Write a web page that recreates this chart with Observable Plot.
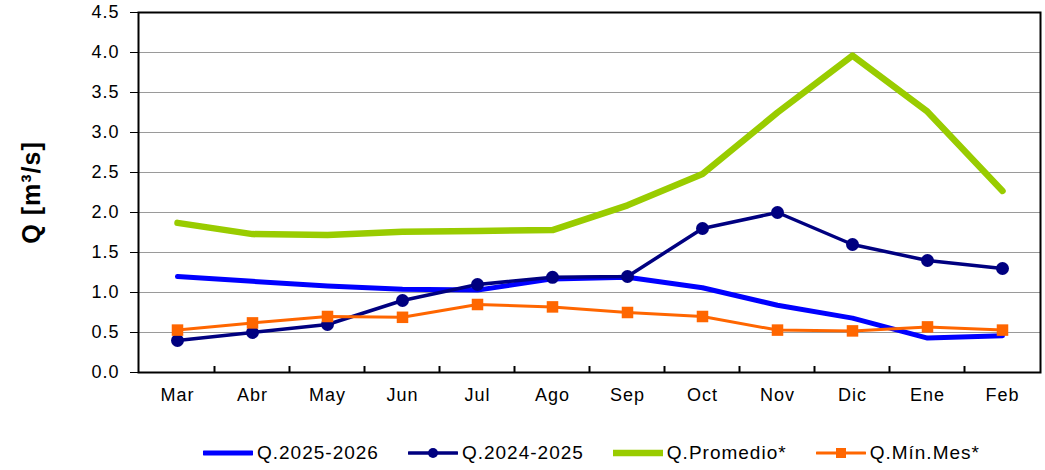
<!DOCTYPE html>
<html>
<head>
<meta charset="utf-8">
<script src="https://cdn.jsdelivr.net/npm/d3@7"></script>
<script src="https://cdn.jsdelivr.net/npm/@observablehq/plot@0.6"></script>
<style>
  body { margin: 0; background: #fff; font-family: "Liberation Sans", Arial, sans-serif; }
  #chart svg { display: block; }
  .legend { display: flex; align-items: center; margin-left: 203px; margin-top: 21px; height: 24px; }
  .item { display: flex; align-items: center; margin-right: 29px; }
  .item span { font-size: 19px; letter-spacing: 1px; color: #000; margin-left: 4px; }
</style>
</head>
<body>
<div id="chart"></div>
<div class="legend" id="legend"></div>
<script>
const months = ["Mar","Abr","May","Jun","Jul","Ago","Sep","Oct","Nov","Dic","Ene","Feb"];
const q2526 = [1.20,1.14,1.08,1.04,1.03,1.17,1.19,1.06,0.84,0.68,0.43,0.46];
const q2425 = [0.40,0.50,0.60,0.90,1.10,1.19,1.20,1.80,2.00,1.60,1.40,1.30];
const qProm = [1.87,1.73,1.72,1.76,1.77,1.78,2.09,2.48,3.25,3.96,3.26,2.27];
const qMin  = [0.53,0.62,0.70,0.69,0.85,0.82,0.75,0.70,0.53,0.52,0.57,0.53];
const yTicks = [0,0.5,1,1.5,2,2.5,3,3.5,4,4.5];
const seriesNames = ["Q.2025-2026","Q.2024-2025","Q.Promedio*","Q.Mín.Mes*"];
const yLabel = "Q [m³/s]";

const toRows = vals => months.map((m, i) => ({month: m, value: vals[i]}));
const d2526 = toRows(q2526), d2425 = toRows(q2425), dProm = toRows(qProm), dMin = toRows(qMin);

const BLUE = "#0000ff", NAVY = "#000080", GREEN = "#99cc00", ORANGE = "#ff6600";

// band boundary ticks (inside, pointing up from bottom axis)
function boundaryTicks(index, scales, values, dimensions) {
  const x = scales.x, y = scales.y;
  const step = x(months[1]) - x(months[0]);
  const g = d3.create("svg:g").attr("stroke", "#000").attr("stroke-width", 2);
  const y0 = y(0);
  for (let i = 1; i < months.length; i++) {
    const bx = x(months[i]) - step / 2;
    g.append("line").attr("x1", bx).attr("x2", bx).attr("y1", y0).attr("y2", y0 - 6);
  }
  return g.node();
}

const chart = Plot.plot({
  width: 1045,
  height: 420,
  marginLeft: 138,
  marginRight: 5,
  marginTop: 12,
  marginBottom: 48,
  style: {fontFamily: "Liberation Sans, Arial, sans-serif", fontSize: "18px", letterSpacing: "1px", color: "#000", background: "#fff"},
  x: {type: "point", domain: months, padding: 0.5, label: null},
  y: {domain: [0, 4.5], label: null},
  marks: [
    Plot.ruleY(yTicks.filter(t => t > 0 && t < 4.5), {stroke: "#9a9a9a", strokeWidth: 1.2}),
    Plot.axisY({ticks: yTicks, tickFormat: d3.format(".1f"), tickSize: 8, tickPadding: 11, label: null, fontSize: 18}),
    Plot.axisX({tickSize: 0, tickPadding: 16, label: null, fontSize: 18}),
    Plot.line(d2526, {x: "month", y: "value", stroke: BLUE, strokeWidth: 5}),
    Plot.line(d2425, {x: "month", y: "value", stroke: NAVY, strokeWidth: 3.5}),
    Plot.dot(d2425, {x: "month", y: "value", fill: NAVY, r: 6.5}),
    Plot.line(dProm, {x: "month", y: "value", stroke: GREEN, strokeWidth: 6.5}),
    Plot.line(dMin, {x: "month", y: "value", stroke: ORANGE, strokeWidth: 3}),
    Plot.dot(dMin, {x: "month", y: "value", fill: ORANGE, symbol: "square", r: 6.5}),
    Plot.frame({stroke: "#000", strokeWidth: 2}),
    boundaryTicks,
    Plot.text([yLabel], {frameAnchor: "left", text: d => d, rotate: -90, dx: -107, textAnchor: "middle", fontWeight: "bold", fontSize: 25, letterSpacing: 0.5, fill: "#000"})
  ]
});
document.getElementById("chart").appendChild(chart);

// legend
const legendDefs = [
  {name: seriesNames[0], color: BLUE, width: 5, marker: null},
  {name: seriesNames[1], color: NAVY, width: 3.5, marker: "circle"},
  {name: seriesNames[2], color: GREEN, width: 6.5, marker: null},
  {name: seriesNames[3], color: ORANGE, width: 3, marker: "square"}
];
const legend = d3.select("#legend");
for (const d of legendDefs) {
  const item = legend.append("div").attr("class", "item");
  const sw = item.append("svg").attr("width", 50).attr("height", 14);
  sw.append("line").attr("x1", 1).attr("x2", 49).attr("y1", 7).attr("y2", 7)
    .attr("stroke", d.color).attr("stroke-width", d.width).attr("stroke-linecap", "round");
  if (d.marker === "circle") sw.append("circle").attr("cx", 25).attr("cy", 7).attr("r", 5).attr("fill", d.color);
  if (d.marker === "square") sw.append("rect").attr("x", 20).attr("y", 2).attr("width", 10).attr("height", 10).attr("fill", d.color);
  item.append("span").text(d.name);
}
</script>
</body>
</html>
